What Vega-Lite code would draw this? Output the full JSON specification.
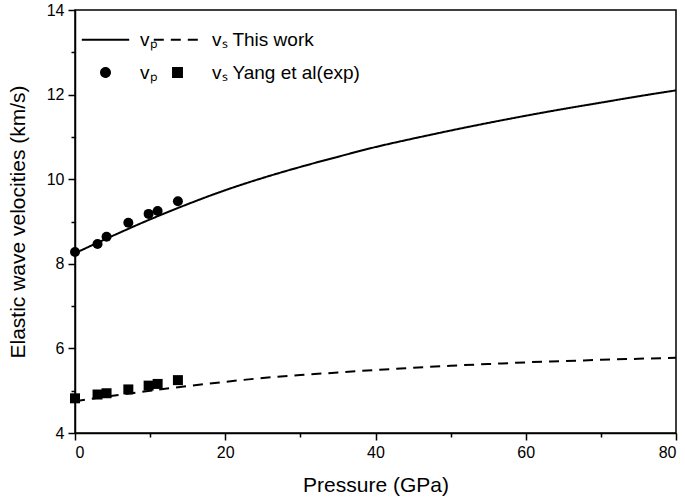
{
  "$schema": "https://vega.github.io/schema/vega-lite/v6.json",
  "width": 601,
  "height": 423,
  "autosize": {"type": "none"},
  "padding": {"left": 75, "top": 10, "right": 9, "bottom": 67},
  "background": "white",
  "config": {
    "font": "Liberation Sans",
    "view": {"stroke": "black", "strokeWidth": 1.5},
    "axis": {
      "domainColor": "black", "domainWidth": 1.5, "tickColor": "black", "tickWidth": 1.5,
      "labelColor": "black", "labelFontSize": 16, "titleFontSize": 21, "titleFontWeight": "normal",
      "titleColor": "black", "grid": false, "labelFont": "Liberation Sans", "titleFont": "Liberation Sans"
    },
    "legend": {"labelFont": "Liberation Sans"}
  },
  "datasets": {
    "lines": [
      {"pressure": 0, "v": 8.25, "series": "P line"},
      {"pressure": 5, "v": 8.66, "series": "P line"},
      {"pressure": 10, "v": 9.05, "series": "P line"},
      {"pressure": 15, "v": 9.41, "series": "P line"},
      {"pressure": 20, "v": 9.74, "series": "P line"},
      {"pressure": 25, "v": 10.03, "series": "P line"},
      {"pressure": 30, "v": 10.29, "series": "P line"},
      {"pressure": 35, "v": 10.53, "series": "P line"},
      {"pressure": 40, "v": 10.76, "series": "P line"},
      {"pressure": 45, "v": 10.96, "series": "P line"},
      {"pressure": 50, "v": 11.15, "series": "P line"},
      {"pressure": 55, "v": 11.33, "series": "P line"},
      {"pressure": 60, "v": 11.50, "series": "P line"},
      {"pressure": 65, "v": 11.66, "series": "P line"},
      {"pressure": 70, "v": 11.81, "series": "P line"},
      {"pressure": 75, "v": 11.96, "series": "P line"},
      {"pressure": 80, "v": 12.10, "series": "P line"},
      {"pressure": 0, "v": 4.75, "series": "S line"},
      {"pressure": 5, "v": 4.88, "series": "S line"},
      {"pressure": 10, "v": 5.00, "series": "S line"},
      {"pressure": 15, "v": 5.11, "series": "S line"},
      {"pressure": 20, "v": 5.21, "series": "S line"},
      {"pressure": 25, "v": 5.30, "series": "S line"},
      {"pressure": 30, "v": 5.37, "series": "S line"},
      {"pressure": 35, "v": 5.43, "series": "S line"},
      {"pressure": 40, "v": 5.49, "series": "S line"},
      {"pressure": 45, "v": 5.54, "series": "S line"},
      {"pressure": 50, "v": 5.59, "series": "S line"},
      {"pressure": 55, "v": 5.63, "series": "S line"},
      {"pressure": 60, "v": 5.67, "series": "S line"},
      {"pressure": 65, "v": 5.70, "series": "S line"},
      {"pressure": 70, "v": 5.73, "series": "S line"},
      {"pressure": 75, "v": 5.755, "series": "S line"},
      {"pressure": 80, "v": 5.78, "series": "S line"}
    ],
    "exp": [
      {"pressure": 0, "v": 8.28, "series": "P exp"},
      {"pressure": 3.0, "v": 8.47, "series": "P exp"},
      {"pressure": 4.2, "v": 8.64, "series": "P exp"},
      {"pressure": 7.1, "v": 8.97, "series": "P exp"},
      {"pressure": 9.8, "v": 9.18, "series": "P exp"},
      {"pressure": 11.0, "v": 9.25, "series": "P exp"},
      {"pressure": 13.7, "v": 9.48, "series": "P exp"},
      {"pressure": 0, "v": 4.82, "series": "S exp"},
      {"pressure": 3.0, "v": 4.91, "series": "S exp"},
      {"pressure": 4.2, "v": 4.94, "series": "S exp"},
      {"pressure": 7.1, "v": 5.03, "series": "S exp"},
      {"pressure": 9.8, "v": 5.12, "series": "S exp"},
      {"pressure": 11.0, "v": 5.16, "series": "S exp"},
      {"pressure": 13.7, "v": 5.25, "series": "S exp"}
    ]
  },
  "resolve": {"axis": {"x": "independent", "y": "independent"}},
  "layer": [
    {
      "data": {"name": "lines"},
      "mark": {"type": "line", "color": "black", "strokeWidth": 2, "interpolate": "monotone"},
      "encoding": {
        "x": {
          "field": "pressure", "type": "quantitative",
          "scale": {"domain": [0, 80], "nice": false, "zero": false},
          "axis": {"orient": "bottom", "title": "Pressure (GPa)", "values": [0, 20, 40, 60, 80], "tickSize": 7, "labelPadding": 4, "titlePadding": 14}
        },
        "y": {
          "field": "v", "type": "quantitative",
          "scale": {"domain": [4, 14], "nice": false, "zero": false},
          "axis": {"orient": "left", "title": "Elastic wave velocities (km/s)", "values": [4, 6, 8, 10, 12, 14], "tickSize": 7, "labelPadding": 4, "titlePadding": 18}
        },
        "strokeDash": {
          "field": "series", "type": "nominal",
          "scale": {"domain": ["P line", "P exp", "S line", "S exp"], "range": [[1, 0], [1, 0], [10, 7], [1, 0]]},
          "legend": {
            "title": null, "orient": "none", "legendX": 21, "legendY": 20, "columns": 2,
            "labelExpr": "datum.value === 'P line' || datum.value === 'P exp' ? 'vₚ' : (datum.value === 'S line' ? 'vₛ This work' : 'vₛ Yang et al(exp)')",
            "labelFontSize": 19, "labelColor": "black", "labelOffset": 25, "columnPadding": -9, "rowPadding": 13,
            "symbolSize": 80, "symbolOpacity": 1,
            "encoding": {"symbols": {"stroke": {"value": "black"}, "strokeWidth": {"value": 2}, "fill": {"value": "black"}, "fillOpacity": {"value": 1}, "opacity": {"value": 1}}}
          }
        }
      }
    },
    {
      "data": {"name": "exp"},
      "mark": {"type": "point", "filled": true, "color": "black", "opacity": 1, "size": 100},
      "encoding": {
        "x": {
          "field": "pressure", "type": "quantitative",
          "axis": {"orient": "bottom", "title": null, "values": [10, 30, 50, 70], "tickSize": 4, "labels": false, "domain": false}
        },
        "y": {
          "field": "v", "type": "quantitative",
          "axis": {"orient": "left", "title": null, "values": [5, 7, 9, 11, 13], "tickSize": 4, "labels": false, "domain": false}
        },
        "shape": {
          "field": "series", "type": "nominal",
          "scale": {"domain": ["P line", "P exp", "S line", "S exp"], "range": ["M-5.3,0H5.3", "circle", "M-5.3,0H5.3", "square"]},
          "legend": {
            "title": null, "orient": "none", "legendX": 21, "legendY": 20, "columns": 2,
            "labelExpr": "datum.value === 'P line' || datum.value === 'P exp' ? 'vₚ' : (datum.value === 'S line' ? 'vₛ This work' : 'vₛ Yang et al(exp)')",
            "labelFontSize": 19, "labelColor": "black", "labelOffset": 25, "columnPadding": -9, "rowPadding": 13,
            "symbolSize": 80, "symbolOpacity": 1,
            "encoding": {"symbols": {"stroke": {"value": "black"}, "strokeWidth": {"value": 2}, "fill": {"value": "black"}, "fillOpacity": {"value": 1}, "opacity": {"value": 1}}}
          }
        }
      }
    }
  ]
}
